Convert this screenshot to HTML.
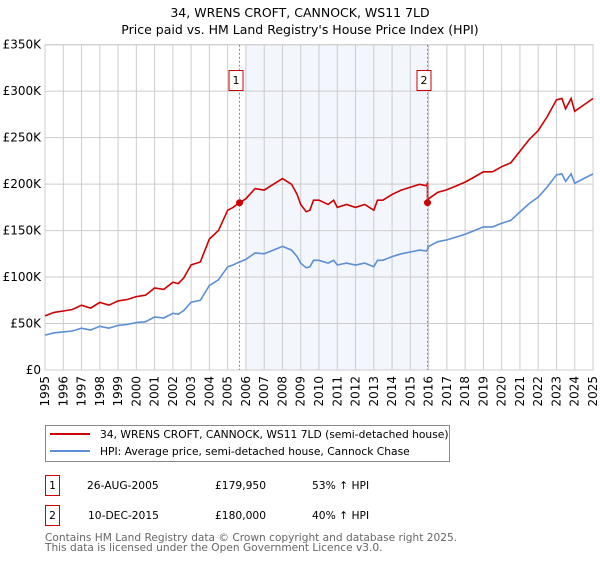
<!DOCTYPE html>
<html><head><meta charset="utf-8"><style>
body{margin:0;background:#fff;font-family:"DejaVu Sans","Liberation Sans",sans-serif;}
svg text{font-family:"DejaVu Sans","Liberation Sans",sans-serif;}
</style></head><body>
<svg id="chart" width="600" height="560" xmlns="http://www.w3.org/2000/svg">
<text x="300" y="17" text-anchor="middle" font-size="12.5">34, WRENS CROFT, CANNOCK, WS11 7LD</text>
<text x="300" y="34" text-anchor="middle" font-size="12.5">Price paid vs. HM Land Registry's House Price Index (HPI)</text>
<g id="plot"></g>
<g>
<rect x="45.5" y="425.5" width="404" height="36" fill="#fff" stroke="#888"/>
<line x1="50" y1="434" x2="90" y2="434" stroke="#cc0000" stroke-width="2"/>
<text x="100" y="438" font-size="10.7">34, WRENS CROFT, CANNOCK, WS11 7LD (semi-detached house)</text>
<line x1="50" y1="451" x2="90" y2="451" stroke="#5b8fd6" stroke-width="2"/>
<text x="100" y="455" font-size="10.7">HPI: Average price, semi-detached house, Cannock Chase</text>
</g>
<g font-size="10.7">
<rect x="45.5" y="475.5" width="14" height="20" fill="#fff" stroke="#cc0000"/>
<text x="52.5" y="489" text-anchor="middle">1</text>
<text x="87" y="489">26-AUG-2005</text>
<text x="215" y="489">£179,950</text>
<text x="312" y="489">53% ↑ HPI</text>
</g>
<g font-size="10.7">
<rect x="45.5" y="505.5" width="14" height="20" fill="#fff" stroke="#cc0000"/>
<text x="52.5" y="519" text-anchor="middle">2</text>
<text x="88" y="519">10-DEC-2015</text>
<text x="215" y="519">£180,000</text>
<text x="312" y="519">40% ↑ HPI</text>
</g>
<text x="45" y="541" font-size="10.6" fill="#666">Contains HM Land Registry data © Crown copyright and database right 2025.</text>
<text x="45" y="551" font-size="10.6" fill="#666">This data is licensed under the Open Government Licence v3.0.</text>
</svg>
<script>
const hpiYears=[1995,1995.5,1996,1996.5,1997,1997.5,1998,1998.5,1999,1999.5,2000,2000.5,2001,2001.5,2002,2002.3,2002.6,2003,2003.5,2004,2004.5,2005,2005.3,2005.5,2006,2006.5,2007,2007.5,2008,2008.5,2008.8,2009,2009.3,2009.5,2009.7,2010,2010.5,2010.8,2011,2011.5,2012,2012.5,2013,2013.2,2013.5,2014,2014.5,2015,2015.5,2015.9,2016,2016.5,2017,2017.5,2018,2018.5,2019,2019.5,2020,2020.5,2021,2021.5,2022,2022.5,2023,2023.3,2023.5,2023.8,2024,2024.5,2025];
const hpiValues=[37.6,40,41,42,45,43,47,45,48,49,51,52,57,56,61,60,64,73,75,91,97,111,113,115,119,126,125,129,133,129,122,115,110,111,118,118,115,118,113,115,113,115,111,118,118,122,125,127,129,128,133,138,140,143,146,150,154,154,158,161,170,179,186,197,210,211,203,211,201,206,211];
const saleYears=[2005.65,2015.94];
const salePrices=[179.95,180];
const yTicks=[0,50,100,150,200,250,300,350];
const yTickLabels=["£0","£50K","£100K","£150K","£200K","£250K","£300K","£350K"];
const xTicks=[1995,1996,1997,1998,1999,2000,2001,2002,2003,2004,2005,2006,2007,2008,2009,2010,2011,2012,2013,2014,2015,2016,2017,2018,2019,2020,2021,2022,2023,2024,2025];
const X0=45,X1=593,Y0=370,Y1=44.7;
const sx=y=>X0+(y-1995)/(2025-1995)*(X1-X0);
const sy=v=>Y0-v/350*(Y0-Y1);
const NS="http://www.w3.org/2000/svg";
const plot=document.getElementById('plot');
function mk(t,a){const e=document.createElementNS(NS,t);for(const k in a)e.setAttribute(k,a[k]);plot.appendChild(e);return e;}
function hpiAt(y){for(let i=1;i<hpiYears.length;i++){if(y<=hpiYears[i]){const t=(y-hpiYears[i-1])/(hpiYears[i]-hpiYears[i-1]);return hpiValues[i-1]+t*(hpiValues[i]-hpiValues[i-1]);}}return hpiValues[hpiValues.length-1];}
let sh=mk('rect',{x:sx(2006),y:Y1,width:sx(saleYears[1])-sx(2006),height:Y0-Y1,fill:'#f3f6fd'});


yTicks.forEach((v,i)=>{
 let l=mk('line',{x1:X0,x2:X1,y1:sy(v),y2:sy(v),stroke:'#ccc'});
 
 
 let t=mk('text',{x:X0-4,y:sy(v)+4,'text-anchor':'end','font-size':'12'});t.textContent=yTickLabels[i];
 
 
});
xTicks.forEach(y=>{
 let l=mk('line',{x1:sx(y),x2:sx(y),y1:Y1,y2:Y0,stroke:'#ccc'});
 
 
 let t=mk('text',{transform:`translate(${sx(y)+4},${Y0+6}) rotate(-90)`,'text-anchor':'end','font-size':'12'});t.textContent=y;
 
 
});
let bd=mk('rect',{x:X0,y:Y1,width:X1-X0,height:Y0-Y1,fill:'none',stroke:'#ccc'});


let hp=hpiYears.map((y,i)=>sx(y).toFixed(1)+','+sy(hpiValues[i]).toFixed(1)).join(' ');
let hl=mk('polyline',{points:hp,fill:'none',stroke:'#5b8fd6','stroke-width':1.6});


const r1=salePrices[0]/hpiAt(saleYears[0]),r2=salePrices[1]/hpiAt(saleYears[1]);
let pts=[];
hpiYears.forEach((y,i)=>{ if(y<saleYears[1]) pts.push([y,hpiValues[i]*r1]); });
pts.push([saleYears[1],hpiAt(saleYears[1])*r1]);
pts.push([saleYears[1],salePrices[1]]);
hpiYears.forEach((y,i)=>{ if(y>saleYears[1]) pts.push([y,hpiValues[i]*r2]); });
let pl=mk('polyline',{points:pts.map(p=>sx(p[0]).toFixed(1)+','+sy(p[1]).toFixed(1)).join(' '),fill:'none',stroke:'#cc0000','stroke-width':1.6});


saleYears.forEach((y,i)=>{
 let d=mk('line',{x1:sx(y),x2:sx(y),y1:Y1,y2:Y0,stroke:'#e06060','stroke-dasharray':'2,2'});
 
 
 let c=mk('circle',{cx:sx(y),cy:sy(salePrices[i]),r:3.5,fill:'#cc0000'});
 
 
 let b=mk('rect',{x:sx(y)-10.5,y:70.5,width:14,height:20,fill:'#fff',stroke:'#cc0000'});
 
 
 let t=mk('text',{x:sx(y)-3.5,y:84,'text-anchor':'middle','font-size':'11'});t.textContent=String(i+1);
 
 
});
</script>
</body></html>
